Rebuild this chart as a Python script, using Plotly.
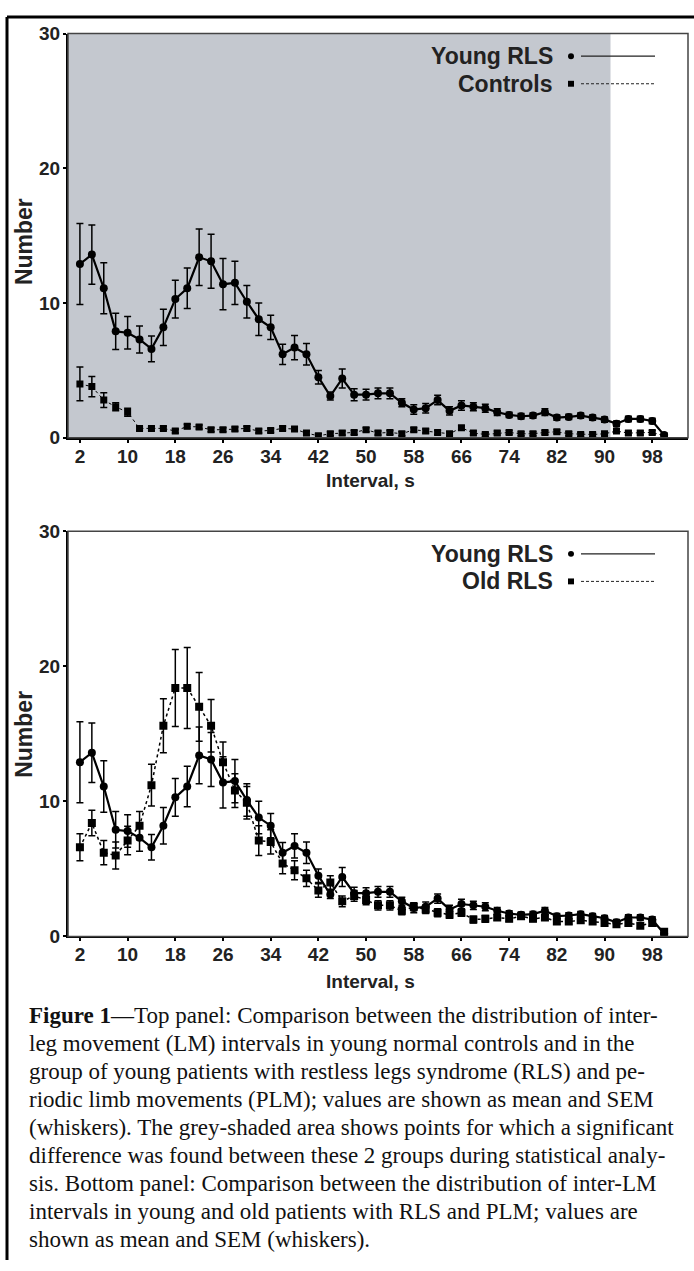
import plotly.graph_objects as go

W, H = 694, 1271

interval = [2, 4, 6, 8, 10, 12, 14, 16, 18, 20, 22, 24, 26, 28, 30, 32, 34, 36, 38, 40,
            42, 44, 46, 48, 50, 52, 54, 56, 58, 60, 62, 64, 66, 68, 70, 72, 74, 76, 78, 80,
            82, 84, 86, 88, 90, 92, 94, 96, 98, 100]

young_mean = [12.9, 13.6, 11.1, 7.9, 7.8, 7.3, 6.6, 8.2, 10.3, 11.1, 13.4, 13.1, 11.4, 11.5, 10.1,
              8.8, 8.2, 6.2, 6.7, 6.2, 4.5, 3.1, 4.4, 3.2, 3.2, 3.3, 3.3, 2.6, 2.1, 2.2,
              2.8, 2.0, 2.4, 2.3, 2.2, 1.9, 1.7, 1.6, 1.65, 1.9, 1.5, 1.55, 1.65, 1.5, 1.35,
              1.05, 1.4, 1.4, 1.25, 0.2]
young_sem = [3.0, 2.2, 1.9, 1.35, 1.2, 1.0, 0.95, 1.35, 1.4, 1.5, 2.1, 2.0, 1.9, 1.6, 1.2,
             1.2, 0.9, 0.75, 0.9, 0.8, 0.5, 0.3, 0.7, 0.45, 0.4, 0.4, 0.4, 0.3, 0.35, 0.35,
             0.35, 0.3, 0.35, 0.3, 0.3, 0.25, 0.2, 0.2, 0.2, 0.25, 0.2, 0.2, 0.2, 0.2, 0.2,
             0.2, 0.2, 0.2, 0.2, 0.05]

controls_mean = [4.0, 3.8, 2.8, 2.3, 1.9, 0.7, 0.7, 0.7, 0.5, 0.85, 0.8, 0.6, 0.6, 0.65, 0.7,
                 0.5, 0.55, 0.7, 0.65, 0.35, 0.15, 0.3, 0.35, 0.4, 0.6, 0.35, 0.4, 0.3, 0.6, 0.5,
                 0.4, 0.3, 0.75, 0.35, 0.25, 0.35, 0.4, 0.3, 0.3, 0.4, 0.45, 0.3, 0.25, 0.25, 0.3,
                 0.5, 0.35, 0.35, 0.4, 0.15]
controls_sem = [1.25, 0.75, 0.55, 0.3, 0.3, 0.15, 0.15, 0.15, 0.15, 0.15, 0.15, 0.15, 0.15, 0.15, 0.15,
                0.15, 0.15, 0.15, 0.15, 0.15, 0.15, 0.15, 0.15, 0.15, 0.15, 0.15, 0.15, 0.15, 0.15, 0.15,
                0.15, 0.15, 0.15, 0.15, 0.15, 0.15, 0.15, 0.15, 0.15, 0.15, 0.15, 0.15, 0.15, 0.15, 0.15,
                0.15, 0.15, 0.15, 0.15, 0.1]

old_mean = [6.6, 8.4, 6.2, 6.0, 7.1, 8.2, 11.2, 15.6, 18.4, 18.4, 17.0, 15.6, 12.9, 10.8, 9.9,
            7.1, 7.0, 5.4, 4.9, 4.3, 3.4, 4.0, 2.6, 3.0, 2.7, 2.3, 2.3, 1.9, 2.2, 2.0,
            1.75, 1.6, 1.75, 1.25, 1.3, 1.4, 1.3, 1.5, 1.3, 1.4, 1.1, 1.1, 1.2, 1.1, 1.0,
            0.9, 1.0, 0.8, 1.0, 0.35]
old_sem = [1.0, 0.95, 0.9, 1.0, 1.05, 1.05, 1.55, 2.0, 2.85, 3.0, 2.55, 1.95, 1.5, 1.25, 1.2,
           1.1, 0.9, 0.75, 0.7, 0.6, 0.5, 0.5, 0.4, 0.4, 0.35, 0.35, 0.35, 0.3, 0.3, 0.3,
           0.3, 0.25, 0.25, 0.25, 0.25, 0.2, 0.2, 0.2, 0.2, 0.2, 0.2, 0.2, 0.2, 0.2, 0.2,
           0.2, 0.2, 0.2, 0.2, 0.1]

x_ticks = [2, 10, 18, 26, 34, 42, 50, 58, 66, 74, 82, 90, 98]
y_ticks = [0, 10, 20, 30]
shade_range = [0, 91]

caption_lines = [
    "<b>Figure 1</b>—Top panel: Comparison between the distribution of inter-",
    "leg movement (LM) intervals in young normal controls and in the",
    "group of young patients with restless legs syndrome (RLS) and pe-",
    "riodic limb movements (PLM); values are shown as mean and SEM",
    "(whiskers). The grey-shaded area shows points for which a significant",
    "difference was found between these 2 groups during statistical analy-",
    "sis. Bottom panel: Comparison between the distribution of inter-LM",
    "intervals in young and old patients with RLS and PLM; values are",
    "shown as mean and SEM (whiskers).",
]


def px(x):
    return x / W


def py(y):
    return 1 - y / H


SANS = "Liberation Sans, Arial, sans-serif"
SERIF = "Liberation Serif, Times New Roman, serif"

fig = go.Figure()


def add_series(mean, sem, yaxis, symbol, dash, lw, msize):
    fig.add_trace(go.Scatter(
        x=interval, y=mean, xaxis="x" if yaxis == "y" else "x2", yaxis=yaxis,
        mode="lines+markers",
        line=dict(color="black", width=lw, dash=dash),
        marker=dict(symbol=symbol, size=msize, color="black"),
        error_y=dict(type="data", array=sem, visible=True, color="black", thickness=1.5, width=3.5),
        showlegend=False, hoverinfo="skip",
    ))


# top panel
add_series(controls_mean, controls_sem, "y", "square", "dot", 1, 7)
add_series(young_mean, young_sem, "y", "circle", "solid", 2.2, 8)
# bottom panel
add_series(old_mean, old_sem, "y2", "square", "dot", 1.5, 8)
add_series(young_mean, young_sem, "y2", "circle", "solid", 2.2, 8)

x_dom = [px(68), px(688)]
top_dom = [py(435), py(24)]
bot_dom = [py(942), py(530)]

axis_common = dict(
    showgrid=False, zeroline=False, showline=True, linecolor="black", linewidth=2,
    ticks="outside", ticklen=3, tickwidth=1.5, tickcolor="black",
    tickfont=dict(family=SANS, size=19, color="#222", weight="bold"),
)

fig.update_layout(
    width=W, height=H, margin=dict(l=0, r=0, t=0, b=0),
    paper_bgcolor="white", plot_bgcolor="rgba(0,0,0,0)",
    xaxis=dict(domain=x_dom, range=[0, 104], tickvals=x_ticks, anchor="y",
               ticklabelstandoff=-3, **axis_common),
    yaxis=dict(domain=top_dom, range=[0, 30], tickvals=y_ticks, anchor="x",
               ticklabelstandoff=-1, **axis_common),
    xaxis2=dict(domain=x_dom, range=[0, 104], tickvals=x_ticks, anchor="y2",
                ticklabelstandoff=-3, **axis_common),
    yaxis2=dict(domain=bot_dom, range=[0, 30], tickvals=y_ticks, anchor="x2",
                ticklabelstandoff=-1, **axis_common),
)

shapes = []
# grey significance shading (top panel)
shapes.append(dict(type="rect", xref="x", yref="y", x0=shade_range[0], x1=shade_range[1],
                   y0=0, y1=30, fillcolor="#c4c8cf", line=dict(width=0), layer="below"))
# frames
for xr, yr in (("x", "y"), ("x2", "y2")):
    shapes.append(dict(type="rect", xref=f"{xr} domain", yref=f"{yr} domain", x0=0, x1=1, y0=0, y1=1,
                       line=dict(color="#444", width=1.5), fillcolor="rgba(0,0,0,0)", layer="above"))
# outer figure border (top & left)
shapes.append(dict(type="line", xref="paper", yref="paper", x0=px(7), x1=1, y0=py(7), y1=py(7),
                   line=dict(color="black", width=3)))
shapes.append(dict(type="line", xref="paper", yref="paper", x0=px(7), x1=px(7), y0=py(7), y1=0,
                   line=dict(color="black", width=3)))

annotations = []


def legend(entries, y_top):
    for i, (name, symbol, dash) in enumerate(entries):
        yc = y_top + i * 28
        annotations.append(dict(xref="paper", yref="paper", x=px(555), y=py(yc), text=f"<b>{name}</b>",
                                showarrow=False, xanchor="right", yanchor="middle",
                                font=dict(family=SANS, size=23, color="#222")))
        if symbol == "circle":
            shapes.append(dict(type="circle", xref="paper", yref="paper", x0=px(568), x1=px(574),
                               y0=py(yc + 3), y1=py(yc - 3), fillcolor="black", line=dict(width=0)))
        else:
            shapes.append(dict(type="rect", xref="paper", yref="paper", x0=px(568), x1=px(574),
                               y0=py(yc + 3), y1=py(yc - 3), fillcolor="black", line=dict(width=0)))
        shapes.append(dict(type="line", xref="paper", yref="paper", x0=px(581), x1=px(655),
                           y0=py(yc), y1=py(yc),
                           line=dict(color="#222", width=1.3 if dash == "solid" else 1,
                                     dash="solid" if dash == "solid" else "3px,2px")))


legend([("Young RLS", "circle", "solid"), ("Controls", "square", "dash")], 47)
legend([("Young RLS", "circle", "solid"), ("Old RLS", "square", "dash")], 553)

# axis titles
for yc in (236, 737):
    annotations.append(dict(xref="paper", yref="paper", x=px(24), y=py(yc), text="<b>Number</b>",
                            textangle=-90, showarrow=False, xanchor="center", yanchor="middle",
                            font=dict(family=SANS, size=23, color="#222")))
for yc in (478, 988):
    annotations.append(dict(xref="paper", yref="paper", x=px(370), y=py(yc), text="<b>Interval, s</b>",
                            showarrow=False, xanchor="center", yanchor="middle",
                            font=dict(family=SANS, size=19, color="#222")))

# caption
for i, line in enumerate(caption_lines):
    annotations.append(dict(xref="paper", yref="paper", x=px(27), y=py(1022 + i * 28.5), text=line,
                            showarrow=False, xanchor="left", yanchor="middle",
                            font=dict(family=SERIF, size=23, color="#111")))

fig.update_layout(shapes=shapes, annotations=annotations)
fig.write_html("out.html")
